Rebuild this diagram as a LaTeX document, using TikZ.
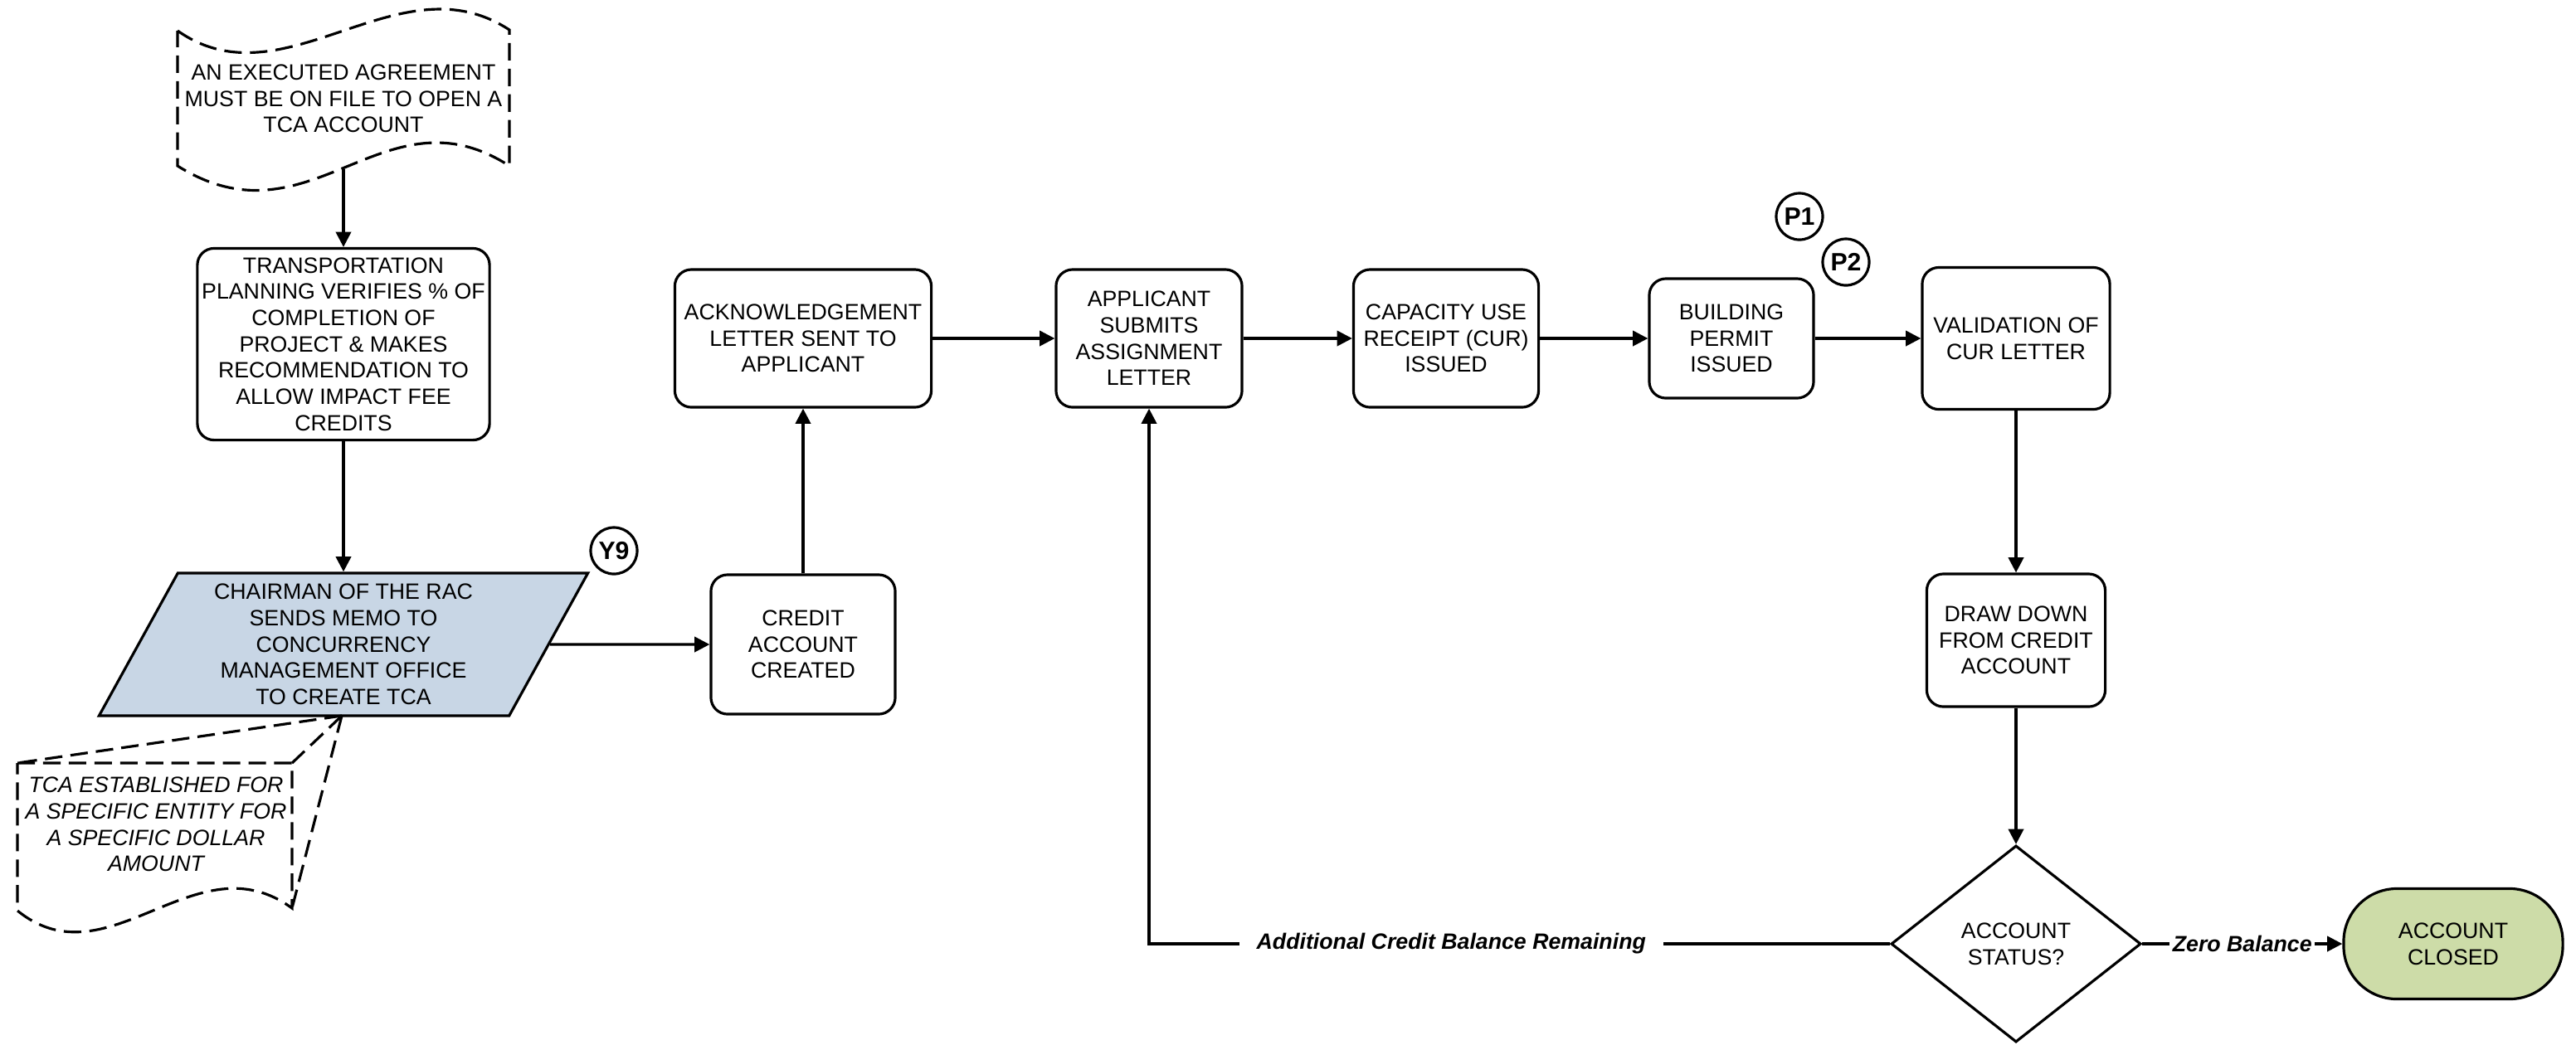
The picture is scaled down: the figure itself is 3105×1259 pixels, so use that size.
\documentclass[tikz,border=0pt]{standalone}
\usepackage{fontspec}
\setmainfont{Liberation Sans}
\usetikzlibrary{shapes.geometric,arrows.meta}
\definecolor{parafill}{RGB}{200,214,229}
\definecolor{endfill}{RGB}{205,220,168}
\begin{document}
\begin{tikzpicture}[x=0.01cm,y=-0.01cm,
  font=\fontsize{7.6}{9}\selectfont,
  box/.style={draw, line width=0.9pt, rounded corners=0.2cm, align=center, inner sep=0pt},
  arr/.style={-{Triangle[length=5.2pt,width=5.2pt]}, line width=0.9pt},
  tag/.style={draw, circle, line width=0.9pt, minimum size=0.56cm, inner sep=0pt, font=\fontsize{8.6}{10}\selectfont\bfseries},
  dsh/.style={dash pattern=on 6pt off 2.8pt, line width=0.9pt},
  lbl/.style={fill=white, font=\fontsize{7.6}{9}\selectfont\bfseries\itshape}]
\useasboundingbox (0,0) rectangle (3105,1259);

% top document (dashed)
\draw[dsh] (214,37) .. controls (343,128) and (480,-52) .. (614,36) -- (614,200)
  .. controls (462,102) and (375,301) .. (214,200) -- cycle;
\node[align=center] (doc1) at (414,119) {AN EXECUTED AGREEMENT\\MUST BE ON FILE TO OPEN A\\TCA ACCOUNT};
\coordinate (d1b) at (414,204);

\node[box, minimum width=3.52cm, minimum height=2.31cm] (tp) at (414,415)
  {TRANSPORTATION\\PLANNING VERIFIES \% OF\\COMPLETION OF\\PROJECT \& MAKES\\RECOMMENDATION TO\\ALLOW IMPACT FEE\\CREDITS};

\node[trapezium, trapezium left angle=63, trapezium right angle=117, trapezium stretches=true,
  draw, fill=parafill, line width=0.9pt, minimum width=5.9cm, minimum height=1.72cm,
  align=center, inner sep=0pt] (para) at (414,777)
  {CHAIRMAN OF THE RAC\\SENDS MEMO TO\\CONCURRENCY\\MANAGEMENT OFFICE\\TO CREATE TCA};

\node[tag] (y9) at (740,664) {Y9};

\node[box, minimum width=2.22cm, minimum height=1.68cm] (cac) at (968,777) {CREDIT\\ACCOUNT\\CREATED};
\node[box, minimum width=3.09cm, minimum height=1.66cm] (ack) at (968,408) {ACKNOWLEDGEMENT\\LETTER SENT TO\\APPLICANT};
\node[box, minimum width=2.24cm, minimum height=1.66cm] (asa) at (1385,408) {APPLICANT\\SUBMITS\\ASSIGNMENT\\LETTER};
\node[box, minimum width=2.23cm, minimum height=1.66cm] (cur) at (1743,408) {CAPACITY USE\\RECEIPT (CUR)\\ISSUED};
\node[box, minimum width=1.98cm, minimum height=1.44cm] (bp) at (2087,408) {BUILDING\\PERMIT\\ISSUED};
\node[box, minimum width=2.26cm, minimum height=1.71cm] (val) at (2430,408) {VALIDATION OF\\CUR LETTER};
\node[box, minimum width=2.15cm, minimum height=1.60cm] (dd) at (2430,772) {DRAW DOWN\\FROM CREDIT\\ACCOUNT};
\node[diamond, draw, line width=0.9pt, aspect=1.27, minimum width=3.01cm, minimum height=2.37cm,
  inner sep=0pt, align=center] (dia) at (2430,1138) {ACCOUNT\\STATUS?};
\node[draw, fill=endfill, line width=0.9pt, rounded corners=0.64cm, minimum width=2.64cm,
  minimum height=1.33cm, align=center, inner sep=0pt] (ac) at (2957,1138) {ACCOUNT\\CLOSED};

\node[tag] (p1) at (2169,261) {P1};
\node[tag] (p2) at (2225,316) {P2};

% connectors
\draw[arr] (d1b) -- (d1b |- tp.north);
\draw[arr] (tp.south) -- (tp.south |- para.north);
\draw[arr] (para.east) -- (cac.west);
\draw[arr] (cac.north) -- (ack.south);
\draw[arr] (ack.east) -- (asa.west);
\draw[arr] (asa.east) -- (cur.west);
\draw[arr] (cur.east) -- (bp.west);
\draw[arr] (bp.east) -- (val.west);
\draw[arr] (val.south) -- (dd.north);
\draw[arr] (dd.south) -- (dia.north);
\draw[arr] (dia.east) -- node[lbl, inner sep=1pt] {Zero Balance} (ac.west);
\draw[arr] (dia.west) -| node[lbl, pos=0.296, inner xsep=6pt] {Additional Credit Balance Remaining} (asa.south);

% annotation callout
\coordinate (ptr) at (412,863);
\draw[dsh] (21,920) -- (352,920) -- (352,1095) .. controls (236,1010) and (131,1187) .. (21,1098) -- cycle;
\draw[dsh] (ptr) -- (21,920);
\draw[dsh] (ptr) -- (352,920);
\draw[dsh] (ptr) -- (352,1095);
\node[align=center, font=\fontsize{7.6}{9}\selectfont\itshape] (ann) at (188,994)
  {TCA ESTABLISHED FOR\\A SPECIFIC ENTITY FOR\\A SPECIFIC DOLLAR\\AMOUNT};
\end{tikzpicture}
\end{document}
